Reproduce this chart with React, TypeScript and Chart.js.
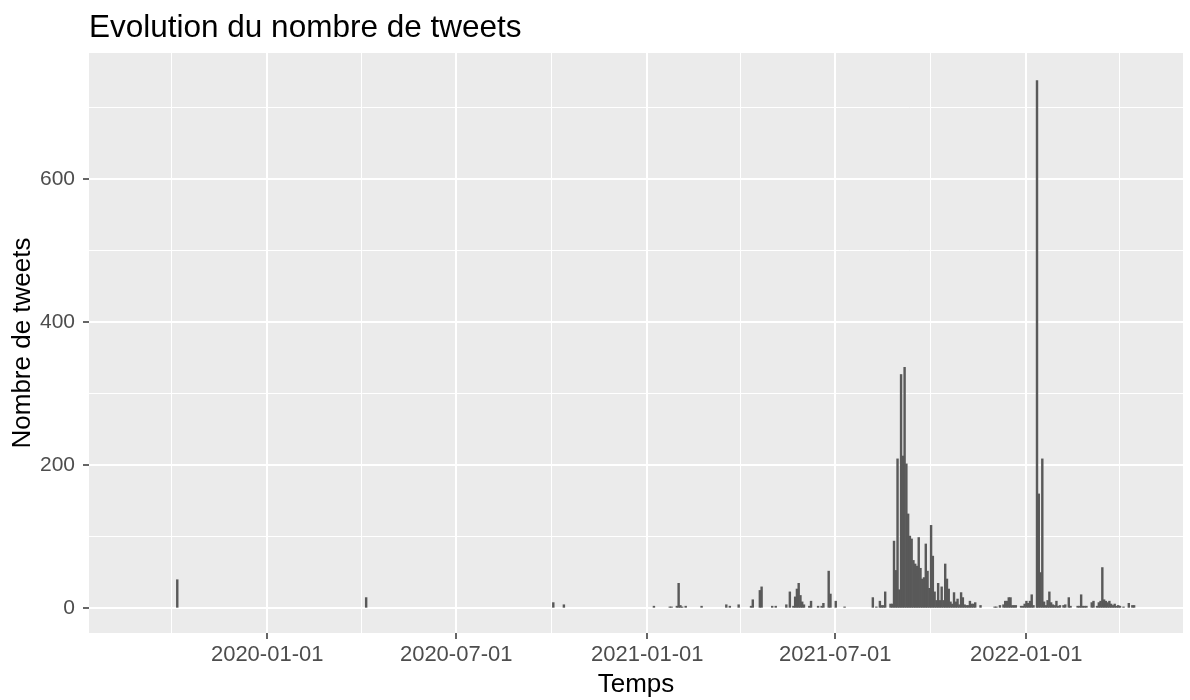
import React, { useEffect, useRef } from "react";
import { Chart, registerables } from "chart.js";

Chart.register(...registerables);

// ---- texts ----
const TITLE = "Evolution du nombre de tweets";
const X_TITLE = "Temps";
const Y_TITLE = "Nombre de tweets";

// ---- histogram bins (bin width in days, start of bin 0) ----
const FIRST_BIN_START = "2019-10-05T13:30:00Z";
const BIN_DAYS = 1.7;

// bin number (counted from FIRST_BIN_START) and tweet count in that bin
const binIndex = [
  0, 107, 213, 219, 270, 279, 280, 283, 284, 285, 286, 288, 297, 311, 313, 318,
  325, 326, 330, 331, 337, 339, 345, 347, 349, 350, 351, 352, 353, 354, 355, 358,
  359, 363, 365, 366, 369, 370, 373, 378, 394, 396, 398, 399, 400, 401, 404, 405,
  406, 407, 408, 409, 410, 411, 412, 413, 414, 415, 416, 417, 418, 419, 420, 421,
  422, 423, 424, 425, 426, 427, 428, 429, 430, 431, 432, 433, 434, 435, 436, 437,
  438, 439, 440, 441, 442, 443, 444, 445, 446, 447, 448, 449, 450, 451, 452, 455,
  463, 464, 466, 468, 469, 470, 471, 472, 473, 474, 475, 478, 479, 480, 481, 482,
  483, 484, 485, 487, 488, 489, 490, 491, 492, 493, 494, 495, 496, 497, 498, 499,
  500, 502, 503, 505, 506, 510, 511, 512, 513, 514, 515, 518, 519, 521, 522, 523,
  524, 525, 526, 527, 528, 529, 530, 531, 532, 533, 534, 536, 539, 541, 542,
];
const tweetCounts = [
  40, 15, 8, 5, 3, 2, 2, 3, 35, 4, 2, 3, 3, 5, 3, 5,
  3, 12, 25, 30, 3, 3, 5, 23, 3, 16, 27, 35, 18, 9, 5, 3,
  10, 3, 3, 7, 52, 20, 10, 2, 15, 2, 10, 4, 4, 23, 6, 6,
  94, 53, 209, 26, 327, 213, 337, 202, 132, 101, 97, 67, 62, 59, 99, 56,
  41, 43, 90, 52, 28, 116, 73, 23, 11, 35, 11, 30, 11, 62, 41, 27,
  9, 6, 22, 9, 13, 5, 22, 15, 5, 4, 4, 10, 6, 6, 8, 4,
  2, 2, 4, 5, 10, 10, 15, 15, 4, 4, 4, 3, 3, 6, 10, 7,
  10, 19, 4, 738, 160, 50, 209, 9, 4, 11, 23, 8, 5, 4, 10, 3,
  4, 4, 5, 15, 3, 3, 3, 19, 3, 3, 3, 8, 10, 3, 8, 10,
  57, 12, 10, 8, 10, 6, 4, 6, 3, 4, 3, 2, 7, 4, 4,
];

// ---- axes ----
const X_LIMITS = ["2019-07-13T10:00:00Z", "2022-05-31T21:30:00Z"];
const xMajorDates = ["2020-01-01", "2020-07-01", "2021-01-01", "2021-07-01", "2022-01-01"];
const xMinorDates = ["2019-10-01", "2020-04-01", "2020-10-01", "2021-04-01", "2021-10-01", "2022-04-01"];
const Y_LIMITS = [-34.5, 776.6];
const yMajorTicks = [0, 200, 400, 600];
const yMinorTicks = [100, 300, 500, 700];

const DAY_MS = 86400000;
const dayOf = (s: string) => Date.parse(s) / DAY_MS;

const FONT = "'Liberation Sans', Arial, Helvetica, sans-serif";
const PANEL_BG = "#EBEBEB";
const BAR_FILL = "#595959";

export default function App() {
  const ref = useRef<HTMLCanvasElement | null>(null);

  useEffect(() => {
    document.body.style.margin = "0";
    const canvas = ref.current;
    if (!canvas) return;

    const start = dayOf(FIRST_BIN_START);
    const points = binIndex.map((b, k) => ({
      x: start + (b + 0.5) * BIN_DAYS,
      y: tweetCounts[k],
    }));

    const xMajorVals = xMajorDates.map(dayOf);
    const xMinorVals = xMinorDates.map(dayOf);
    const xLabel = new Map<number, string>();
    xMajorDates.forEach((d, i) => xLabel.set(xMajorVals[i], d));
    const xTickVals = [...xMinorVals, ...xMajorVals].sort((a, b) => a - b);
    const yTickVals = [...yMajorTicks, ...yMinorTicks].sort((a, b) => a - b);

    const isXMajor = (v: number) => xLabel.has(v);
    const isYMajor = (v: number) => yMajorTicks.includes(v);

    const bgPlugin = {
      id: "ggBackground",
      beforeDraw(chart: any) {
        const { ctx, chartArea } = chart;
        ctx.save();
        ctx.fillStyle = "#FFFFFF";
        ctx.fillRect(0, 0, chart.width, chart.height);
        ctx.fillStyle = PANEL_BG;
        ctx.fillRect(chartArea.left, chartArea.top, chartArea.right - chartArea.left, chartArea.bottom - chartArea.top);
        ctx.restore();
      },
      afterDraw(chart: any) {
        const { ctx, chartArea } = chart;
        ctx.save();
        ctx.fillStyle = "#000000";
        ctx.font = `31.5px ${FONT}`;
        ctx.textAlign = "left";
        ctx.textBaseline = "alphabetic";
        ctx.fillText(TITLE, chartArea.left, 37);
        ctx.restore();
      },
    };

    const chart = new Chart(canvas, {
      type: "bar",
      data: {
        datasets: [
          {
            data: points as any,
            backgroundColor: BAR_FILL,
            borderWidth: 0,
            barPercentage: 1,
            categoryPercentage: 1,
          },
        ],
      },
      options: {
        responsive: false,
        animation: false,
        events: [],
        layout: { padding: { top: 53, right: 7, bottom: 0, left: 0 } },
        plugins: {
          legend: { display: false },
          tooltip: { enabled: false },
          title: { display: false },
        },
        scales: {
          x: {
            type: "linear",
            offset: false,
            min: dayOf(X_LIMITS[0]),
            max: dayOf(X_LIMITS[1]),
            afterBuildTicks: (scale: any) => {
              scale.ticks = xTickVals.map((v) => ({ value: v }));
            },
            afterFit: (scale: any) => {
              scale.height = 67;
            },
            border: { display: false },
            grid: {
              offset: false,
              color: "#FFFFFF",
              lineWidth: (c: any) => (isXMajor(c.tick?.value) ? 2 : 1),
              drawTicks: true,
              tickLength: 6,
              tickWidth: 1.5,
              tickColor: (c: any) => (isXMajor(c.tick?.value) ? "#333333" : "rgba(0,0,0,0)"),
            },
            ticks: {
              autoSkip: false,
              maxRotation: 0,
              minRotation: 0,
              padding: 3,
              color: "#4D4D4D",
              font: { family: FONT, size: 22 },
              callback: (v: any) => xLabel.get(Number(v)) ?? "",
            },
            title: {
              display: true,
              text: X_TITLE,
              color: "#000000",
              font: { family: FONT, size: 26 },
              padding: { top: 0, bottom: 0 },
            },
          },
          y: {
            type: "linear",
            min: Y_LIMITS[0],
            max: Y_LIMITS[1],
            afterBuildTicks: (scale: any) => {
              scale.ticks = yTickVals.map((v) => ({ value: v }));
            },
            afterFit: (scale: any) => {
              scale.width = 89;
            },
            border: { display: false },
            grid: {
              color: "#FFFFFF",
              lineWidth: (c: any) => (isYMajor(c.tick?.value) ? 2 : 1),
              drawTicks: true,
              tickLength: 6,
              tickWidth: 1.5,
              tickColor: (c: any) => (isYMajor(c.tick?.value) ? "#333333" : "rgba(0,0,0,0)"),
            },
            ticks: {
              autoSkip: false,
              padding: 8,
              color: "#4D4D4D",
              font: { family: FONT, size: 21 },
              callback: (v: any) => (isYMajor(Number(v)) ? String(v) : ""),
            },
            title: {
              display: true,
              text: Y_TITLE,
              color: "#000000",
              font: { family: FONT, size: 26 },
              padding: { top: 7, bottom: 0 },
            },
          },
        },
      },
      plugins: [bgPlugin],
    });

    return () => chart.destroy();
  }, []);

  return (
    <canvas
      ref={ref}
      width={1190}
      height={700}
      style={{ display: "block", width: 1190, height: 700 }}
    />
  );
}
